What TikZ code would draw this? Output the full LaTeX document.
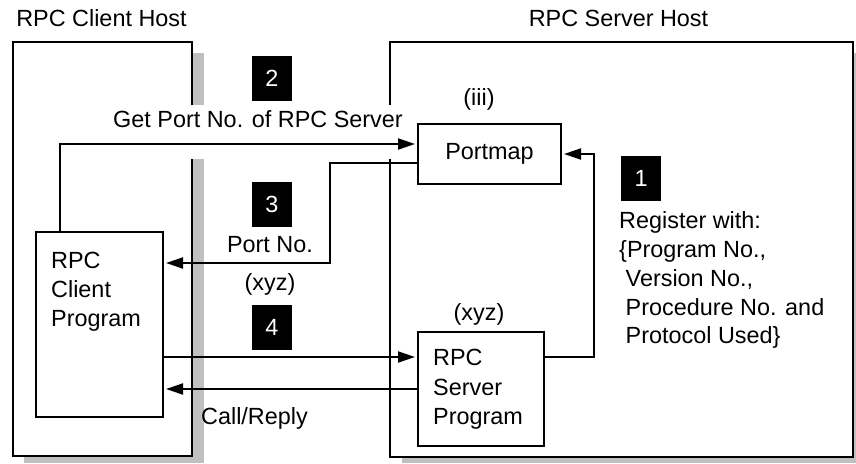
\documentclass[tikz,border=0pt]{standalone}
\usepackage{fontspec}
\setmainfont{Liberation Sans}
\usetikzlibrary{arrows.meta,calc}
\definecolor{shadowgray}{RGB}{192,192,192}
\begin{document}
\begin{tikzpicture}[x=1pt,y=-1pt,
  txt/.style={inner sep=0pt, font=\fontsize{23.4}{28}\selectfont},
  boxline/.style={draw=black, fill=white, line width=2pt, outer sep=0pt, inner sep=0pt},
  hostbox/.style={boxline, anchor=north west},
  progbox/.style={boxline, font=\fontsize{23.4}{28}\selectfont},
  numbox/.style={fill=black, text=white, minimum width=40pt, minimum height=45pt, inner sep=0pt, font=\fontsize{23.4}{28}\selectfont},
  arr/.style={line width=2pt, -{Triangle[length=17pt,width=11pt]}, shorten >=3pt},
]
\useasboundingbox (0,0) rectangle (856,463);
% shadows
\fill[shadowgray] (24,53) rectangle (204,463);
\fill[shadowgray] (402,53) rectangle (856,463);
% host boxes
\node[hostbox, minimum width=179pt, minimum height=414pt] (chost) at (13,42) {};
\node[hostbox, minimum width=463pt, minimum height=415pt] (shost) at (390,42) {};
% opening between the hosts
\fill[white] (189,105) rectangle (393,159);
% inner boxes
\node[progbox, anchor=north west, minimum width=127pt, minimum height=185pt] (cprog) at (36,232) {};
\node[progbox, minimum width=143pt, minimum height=60pt] (portmap) at (489.5,154) {Portmap};
\node[progbox, anchor=north west, minimum width=126pt, minimum height=114pt] (sprog) at (418,332) {};
% helper coordinates
\coordinate (bend3) at (330,263);
\coordinate (cally) at (0,357);
\coordinate (regx) at (594,0);
% connectors
\draw[arr] ($(cprog.north west)+(24,0)$) |- ($(portmap.west)+(0,-10)$);
\draw[arr] ($(portmap.west)+(0,9)$) -| (bend3) -- (bend3 -| cprog.east);
\draw[arr] (cprog.east |- cally) -- (sprog.west |- cally);
\draw[arr] (sprog.west) -- (cprog.east |- sprog.west);
\draw[arr] (sprog.east |- cally) -| (regx |- portmap.east) -- (portmap.east);
% titles
\node[txt, anchor=base] (t1) at (101.5,27) {RPC Client Host};
\node[txt, anchor=base] (t2) at (618.5,27) {RPC Server Host};
% labels
\node[txt, anchor=base] (lget) at (258,127) {Get Port No. of RPC Server};
\node[txt, anchor=base] (liii) at (479,105) {(iii)};
\node[txt, anchor=base] (lport) at (270,252) {Port No.};
\node[txt, anchor=base] (lxyz1) at (270,290) {(xyz)};
\node[txt, anchor=base] (lxyz2) at (479,320) {(xyz)};
\node[txt, anchor=base] (lcall) at (254.5,424) {Call/Reply};
% program texts
\node[txt, anchor=base west] (c1) at (51,268) {RPC};
\node[txt, anchor=base west] (c2) at (51,297) {Client};
\node[txt, anchor=base west] (c3) at (51,326) {Program};
\node[txt, anchor=base west] (s1) at (433,365) {RPC};
\node[txt, anchor=base west] (s2) at (433,395) {Server};
\node[txt, anchor=base west] (s3) at (433,424) {Program};
% register text
\node[txt, anchor=base west] (r1) at (619,228) {Register with:};
\node[txt, anchor=base west] (r2) at (619,257) {\{Program No.,};
\node[txt, anchor=base west] (r3) at (619,286) {\hspace*{0.278em}Version No.,};
\node[txt, anchor=base west] (r4) at (619,315) {\hspace*{0.278em}Procedure No. and};
\node[txt, anchor=base west] (r5) at (619,343) {\hspace*{0.278em}Protocol Used\}};
% step numbers
\node[numbox] (n1) at (641,178.5) {1};
\node[numbox] (n2) at (272,78) {2};
\node[numbox] (n3) at (272,204.5) {3};
\node[numbox] (n4) at (272,327.5) {4};
\end{tikzpicture}
\end{document}
